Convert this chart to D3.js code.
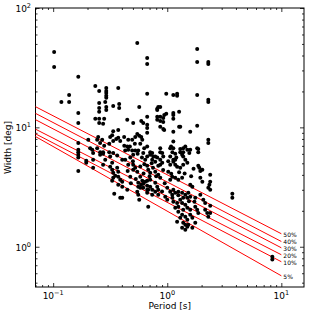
<!DOCTYPE html>
<html><head><meta charset="utf-8">
<script src="https://cdn.jsdelivr.net/npm/d3@7"></script>
<style>body{margin:0;background:#fff}svg text{font-family:"DejaVu Sans",sans-serif}</style>
</head><body><svg id="c" width="310" height="316"></svg>
<script>
// ---- data ----
const periodDomain = [0.07, 15.8];
const widthDomain = [0.46, 100];
const xMajorTicks = [0.1, 1, 10];
const xTickExponents = ["\u22121", "0", "1"];
const yMajorTicks = [1, 10, 100];
const yTickExponents = ["0", "1", "2"];
const xLabel = "Period [s]";
const yLabel = "Width [deg]";

const lineLabels = ["50%", "40%", "30%", "20%", "10%", "5%"];
const lineStartPeriod = 0.07;
const lineEndPeriod = 10;
const lineStartWidth = [14.9, 13.1, 11.6, 9.66, 8.83, 8.38];
const lineEndWidth = [1.285, 1.107, 0.98, 0.857, 0.749, 0.571];

// [period (s), width (deg)]
const pulsars = [
[0.102,42.8],[0.102,32.1],[0.166,26.5],[0.138,18.7],[0.118,16.3],[0.138,16.3],[0.166,13.2],[0.166,10.9],
[0.234,22.2],[0.253,20.2],[0.292,21.4],[0.292,20.2],[0.292,19.4],[0.292,18.4],[0.292,17.7],[0.372,21.4],
[0.253,16.0],[0.253,14.5],[0.253,13.5],[0.286,16.3],[0.292,14.8],[0.292,14.0],[0.336,15.1],[0.379,15.7],
[0.379,14.5],[0.546,50.9],[0.667,38.2],[0.667,34.0],[0.667,19.1],[0.568,14.8],[0.234,11.8],[0.253,11.8],
[0.253,10.9],[0.280,11.8],[0.274,10.7],[0.446,11.6],[0.503,10.9],[0.592,11.3],[0.616,10.9],[0.667,12.3],
[1.83,45.4],[1.83,35.3],[2.29,35.3],[2.29,34.0],[0.98,19.1],[1.13,18.7],[1.22,19.1],[1.22,18.4],
[1.83,18.7],[2.29,17.0],[2.29,16.3],[0.834,14.8],[0.817,14.3],[0.817,14.0],[0.868,14.8],[1.13,13.2],
[1.13,12.7],[1.13,11.8],[1.27,13.5],[0.98,13.0],[0.817,12.3],[0.868,12.3],[0.922,12.0],[0.868,11.3],
[0.922,11.1],[0.817,11.6],[0.667,10.5],[0.868,10.1],[0.922,9.7],[0.94,9.5],[1.27,10.1],[1.83,10.3],
[1.59,9.2],[1.13,9.2],[2.29,7.86],[2.29,7.4],[1.13,7.6],[0.868,6.7],[1.08,6.9],[1.13,6.7],
[1.30,6.6],[1.44,6.9],[1.83,6.7],[0.166,7.4],[0.166,6.2],[0.248,8.3],[0.269,7.86],[0.329,8.6],
[0.336,9.3],[0.372,9.5],[0.357,8.0],[0.372,8.2],[0.387,7.7],[0.336,7.7],[0.455,7.86],[0.493,7.86],
[0.546,8.8],[0.568,8.5],[0.592,8.3],[0.604,7.86],[0.667,9.9],[0.667,9.0],[0.243,7.86],[0.258,7.4],
[0.243,6.7],[0.316,8.3],[0.419,8.3],[0.524,8.3],[0.580,7.3],[0.628,6.7],[0.667,6.9],[0.709,6.2],
[0.738,6.1],[0.446,6.9],[0.493,6.4],[0.503,5.89],[0.258,6.2],[0.274,6.0],[0.310,6.2],[0.336,6.1],
[0.364,5.8],[0.166,6.49],[0.166,5.89],[0.166,5.6],[0.195,5.25],[0.195,5.05],[0.166,4.32],[0.224,5.35],
[0.224,4.58],[0.274,6.2],[0.274,4.86],[0.316,5.7],[0.329,4.41],[0.336,4.16],[0.350,3.93],[0.336,3.78],
[0.329,3.57],[0.372,3.85],[0.387,3.64],[0.403,3.50],[0.372,4.24],[0.364,4.58],[0.428,6.4],[0.455,6.49],
[0.524,6.4],[0.557,6.4],[0.428,5.35],[0.474,5.6],[0.474,3.85],[0.503,4.86],[0.524,4.58],[0.546,4.24],
[0.557,3.43],[0.557,3.18],[0.580,3.12],[0.604,3.57],[0.616,3.37],[0.616,3.12],[0.667,3.57],[0.667,3.24],
[0.667,3.00],[0.546,2.89],[0.557,2.73],[0.568,2.47],[0.343,2.78],[0.387,2.57],[0.403,2.57],[0.681,2.16],
[0.616,6.1],[0.667,5.7],[0.641,5.35],[0.329,5.05],[0.316,4.67],
[0.868,6.2],[1.062,6.7],[1.11,6.2],[1.38,6.7],[1.50,6.49],[1.38,6.2],[1.87,6.6],[1.87,6.2],
[0.709,5.89],[0.754,5.7],[0.738,5.35],[0.785,5.15],[0.817,5.6],[0.868,5.35],[0.904,5.05],[0.834,4.76],
[1.062,5.7],[1.13,5.15],[1.175,5.35],[1.062,4.86],[1.22,4.67],[1.30,4.58],[1.38,4.86],[1.50,5.05],
[1.44,5.35],[1.87,4.76],[1.91,4.58],[1.95,4.32],[1.95,3.78],[2.38,3.50],[2.34,3.30],[0.667,4.76],
[0.681,4.41],[0.709,4.16],[0.785,4.24],[0.834,4.01],[0.868,3.78],[1.02,4.24],[1.084,4.08],[1.106,3.85],
[1.062,3.64],[1.175,3.78],[1.25,3.64],[1.35,3.78],[0.641,3.50],[0.709,3.18],[0.681,3.00],[0.667,2.83],
[0.738,2.73],[0.785,3.43],[0.817,3.18],[0.834,3.00],[0.785,2.89],[0.834,2.73],[1.0,3.12],[1.062,2.89],
[1.13,3.00],[1.175,2.83],[1.106,2.73],[1.25,2.89],[1.35,2.83],[1.44,2.73],[1.50,2.57],[1.38,2.57],
[1.30,2.47],[1.53,2.83],[1.59,2.62],[1.76,2.57],[1.73,2.38],[2.07,2.47],[2.15,2.33],[2.29,3.12],
[2.38,3.00],[3.72,2.78],[3.72,2.57],[1.11,2.57],[1.13,2.38],[1.22,2.33],[1.25,2.16],[1.175,2.12],
[1.35,2.33],[1.44,2.25],[1.38,2.04],[1.50,2.12],[1.25,1.96],[1.35,1.85],[1.30,1.75],[1.44,1.78],
[1.50,1.68],[1.38,1.59],[1.44,1.53],[1.59,1.85],[1.66,1.75],[1.76,1.59],[1.22,1.62],[1.87,1.92],
[2.15,2.04],[2.24,1.92],[2.29,1.78],[1.59,2.04],[0.96,2.62],[1.0,2.47],[1.35,1.44],[1.44,1.39],
[1.50,1.47],[2.38,4.01],[2.03,3.50],[1.59,3.30],[1.66,3.18],[1.95,2.73],[2.38,2.20],[2.38,1.92],
[1.76,2.16],[1.83,2.04],[1.66,1.44],[1.53,1.53],[8.34,0.825],[8.34,0.78],[0.941,12.7],[1.30,10.1],
[0.785,5.7],[0.904,6.1],[0.922,5.7],[0.868,4.86],[1.175,6.0],[1.13,5.35],[1.175,4.86],[1.30,6.2],
[1.35,5.89],[1.38,5.7],[1.59,6.49],[1.56,6.1],[2.03,4.41],
[0.446,3.00],[0.372,3.30],[0.403,3.18],[0.258,5.89],[0.224,6.1],[0.503,4.41],[0.580,3.85],[0.709,3.64],
[0.738,3.00],[0.455,4.86],[0.403,5.35],[0.286,5.35],[0.211,6.7],[0.203,7.86],
[0.42,7.0],[0.47,6.9],[0.52,7.3],[0.55,6.0],[0.60,5.6],[0.63,4.9],[0.58,4.7],[0.50,5.2],
[0.45,4.3],[0.62,4.1],[0.53,3.7],[0.48,3.4],[0.59,3.3],[0.70,3.9],[0.75,4.6],[0.73,5.0],
[0.80,3.9],[0.95,3.4],[0.92,4.4],[1.02,5.2],[1.20,5.6],[1.27,4.2],[1.42,4.1],[1.62,3.9],
[1.70,4.5],[1.55,2.4],[1.25,2.7],[0.90,2.9],[0.31,7.3],[0.28,7.0],[0.22,6.5]
];

// ---- drawing ----
const m = {left: 35.5, right: 304, top: 8, bottom: 287};
const svg = d3.select("#c");
const x = d3.scaleLog().domain(periodDomain).range([m.left, m.right]);
const y = d3.scaleLog().domain(widthDomain).range([m.bottom, m.top]);

function minorTicks(domain) {
  const out = [];
  for (let e = -3; e <= 3; e++) for (let k = 2; k <= 9; k++) {
    const v = k * Math.pow(10, e);
    if (v >= domain[0] && v <= domain[1]) out.push(v);
  }
  return out;
}
const pw = m.right - m.left, ph = m.bottom - m.top;
const fmt = () => "";
const makers = [
  [() => d3.axisBottom(x), 0, m.bottom, periodDomain, xMajorTicks],
  [() => d3.axisTop(x), 0, m.top, periodDomain, xMajorTicks],
  [() => d3.axisLeft(y), m.left, 0, widthDomain, yMajorTicks],
  [() => d3.axisRight(y), m.right, 0, widthDomain, yMajorTicks]
];
makers.forEach(([mk, tx, ty, dom, majors]) => {
  const maj = majors.filter(v => v >= dom[0] && v <= dom[1]);
  const g1 = svg.append("g").attr("transform", `translate(${tx},${ty})`)
    .call(mk().tickValues(maj).tickSize(-4).tickFormat(fmt));
  const g2 = svg.append("g").attr("transform", `translate(${tx},${ty})`)
    .call(mk().tickValues(minorTicks(dom)).tickSize(-2).tickFormat(fmt));
  [g1, g2].forEach(g => {
    g.select(".domain").remove();
    g.selectAll("line").attr("stroke", "#000").attr("stroke-width", 0.8);
  });
});
svg.append("rect").attr("x", m.left).attr("y", m.top).attr("width", pw).attr("height", ph)
  .attr("fill", "none").attr("stroke", "#000").attr("stroke-width", 1);

// tick labels
xMajorTicks.forEach((v, i) => {
  const t = svg.append("text").attr("x", x(v)).attr("y", 299).attr("text-anchor", "middle")
    .attr("font-size", 9);
  t.append("tspan").text("10");
  t.append("tspan").attr("dy", -4).attr("font-size", 6.5).text(xTickExponents[i]);
});
yMajorTicks.forEach((v, i) => {
  const t = svg.append("text").attr("x", 31).attr("y", y(v) + 4).attr("text-anchor", "end")
    .attr("font-size", 9);
  t.append("tspan").text("10");
  t.append("tspan").attr("dy", -4).attr("font-size", 6.5).text(yTickExponents[i]);
});
svg.append("text").attr("x", (m.left + m.right) / 2).attr("y", 309).attr("text-anchor", "middle")
  .attr("font-size", 9).text(xLabel);
svg.append("text").attr("transform", `translate(11,${(m.top + m.bottom) / 2}) rotate(-90)`)
  .attr("text-anchor", "middle").attr("font-size", 9).text(yLabel);

// red lines
const lineData = lineLabels.map((lab, i) => ({lab, pts: [[lineStartPeriod, lineStartWidth[i]], [lineEndPeriod, lineEndWidth[i]]]}));
const lg = d3.line().x(d => x(d[0])).y(d => y(d[1]));
svg.append("g").selectAll("path").data(lineData).join("path")
  .attr("d", d => lg(d.pts)).attr("fill", "none").attr("stroke", "#ff0000").attr("stroke-width", 1);
svg.append("g").selectAll("text").data(lineData).join("text")
  .attr("x", d => x(lineEndPeriod) + 2).attr("y", d => y(d.pts[1][1]) + 3)
  .attr("font-size", 6).text(d => d.lab);

// points
svg.append("g").selectAll("circle").data(pulsars).join("circle")
  .attr("cx", d => x(d[0])).attr("cy", d => y(d[1])).attr("r", 2).attr("fill", "#000");
</script></body></html>
